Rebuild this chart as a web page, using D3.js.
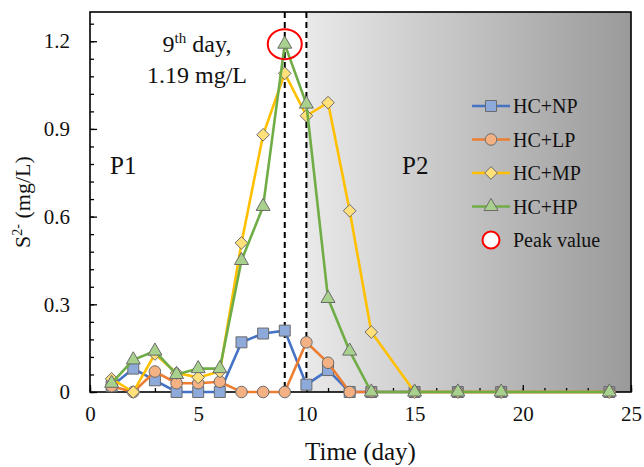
<!DOCTYPE html>
<html>
<head>
<meta charset="utf-8">
<script src="https://cdn.jsdelivr.net/npm/d3@7"></script>
<style>
  body { margin: 0; background: #fff; }
  svg text { font-family: "Liberation Serif", "DejaVu Serif", serif; fill: #111; }
</style>
</head>
<body>
<svg id="chart" width="644" height="467"></svg>
<script>
// sampling days and S2- concentration (mg/L) per treatment
var days = [1, 2, 3, 4, 5, 6, 7, 8, 9, 10, 11, 12, 13, 15, 17, 19, 24]
var hcNP = [0.02, 0.08, 0.04, 0, 0, 0, 0.17, 0.20, 0.21, 0.025, 0.075, 0, 0, 0, 0, 0, 0]
var hcLP = [0.02, 0, 0.07, 0.03, 0.03, 0.035, 0, 0, 0, 0.17, 0.10, 0, 0, 0, 0, 0, 0]
var hcMP = [0.045, 0, 0.13, 0.065, 0.05, 0.07, 0.51, 0.88, 1.09, 0.945, 0.99, 0.62, 0.205, 0, 0, 0, 0]
var hcHP = [0.03, 0.11, 0.14, 0.06, 0.08, 0.08, 0.45, 0.635, 1.19, 0.985, 0.32, 0.14, 0, 0, 0, 0, 0]
var seriesNames = ['HC+NP', 'HC+LP', 'HC+MP', 'HC+HP']
var xTicks = [0, 5, 10, 15, 20, 25]
var yTicks = [0, 0.3, 0.6, 0.9, 1.2]
var peak = { day: 9, value: 1.19 }
var phaseSplit = [9, 10]

var margin = { top: 12, right: 13, bottom: 75, left: 90 }
var svg = d3.select('#chart')
var width = +svg.attr('width') - margin.left - margin.right
var height = +svg.attr('height') - margin.top - margin.bottom
var g = svg.append('g').attr('transform', 'translate(' + margin.left + ',' + margin.top + ')')

var x = d3.scaleLinear().domain([0, 25]).range([0, width])
var y = d3.scaleLinear().domain([0, 1.3]).range([height, 0])

// P2 shaded background
var defs = svg.append('defs')
var grad = defs.append('linearGradient').attr('id', 'p2bg').attr('x1', 0).attr('x2', 1).attr('y1', 0).attr('y2', 0)
grad.append('stop').attr('offset', 0).attr('stop-color', '#e9e9e9')
grad.append('stop').attr('offset', 1).attr('stop-color', '#9a9a9a')
g.append('rect')
    .attr('x', x(10)).attr('y', 0)
    .attr('width', x(25) - x(10)).attr('height', height)
    .attr('fill', 'url(#p2bg)')

// axes with inward ticks
function styleAxis(sel) {
  sel.attr('font-family', null)
  sel.select('.domain').remove()
  sel.selectAll('line').attr('stroke', '#000').attr('stroke-width', 1.3)
  sel.selectAll('text').style('font-size', '21px').attr('fill', '#111')
}
g.append('g').attr('transform', 'translate(0,' + height + ')')
    .call(d3.axisBottom(x).tickValues(d3.range(0, 26, 1)).tickSize(-4).tickFormat(''))
    .call(styleAxis)
g.append('g').attr('transform', 'translate(0,' + height + ')')
    .call(d3.axisBottom(x).tickValues(xTicks).tickSize(-7).tickPadding(14).tickFormat(d3.format('d')))
    .call(styleAxis)
g.append('g')
    .call(d3.axisLeft(y).tickValues(d3.range(0, 1.29, 0.06)).tickSize(-4).tickFormat(''))
    .call(styleAxis)
g.append('g')
    .call(d3.axisLeft(y).tickValues(yTicks).tickSize(-7).tickPadding(20).tickFormat(d => d == 0 ? '0' : d3.format('.1f')(d)))
    .call(styleAxis)

// frame
g.append('rect').attr('width', width).attr('height', height)
    .attr('fill', 'none').attr('stroke', '#000').attr('stroke-width', 1.6)

// dashed phase boundaries
g.selectAll('.phase').data(phaseSplit).enter().append('line')
    .attr('x1', d => x(d)).attr('x2', d => x(d))
    .attr('y1', 0).attr('y2', height)
    .attr('stroke', '#000').attr('stroke-width', 2).attr('stroke-dasharray', '6,4')

var styles = [
  { line: '#4472c4', fill: '#8eaadb', shape: 'square' },
  { line: '#ed7d31', fill: '#f4b183', shape: 'circle' },
  { line: '#ffc000', fill: '#ffe07a', shape: 'diamond' },
  { line: '#70ad47', fill: '#a9d18e', shape: 'triangle' },
]
// squared diamond (rotated square), d3's own is too narrow
var rhombus = { draw: function(ctx, size) {
  var r = Math.sqrt(size / 2)
  ctx.moveTo(0, -r); ctx.lineTo(r, 0); ctx.lineTo(0, r); ctx.lineTo(-r, 0); ctx.closePath()
} }
var symbolFor = {
  square: d3.symbol().type(d3.symbolSquare).size(120),
  circle: d3.symbol().type(d3.symbolCircle).size(105),
  diamond: d3.symbol().type(rhombus).size(80),
  triangle: d3.symbol().type(d3.symbolTriangle).size(85),
}

var allSeries = [hcNP, hcLP, hcMP, hcHP]
var line = d3.line().x((d, i) => x(days[i])).y(d => y(d))

allSeries.forEach(function(vals, si) {
  var st = styles[si]
  var sg = g.append('g')
  sg.append('path').datum(vals)
      .attr('d', line)
      .attr('fill', 'none').attr('stroke', st.line).attr('stroke-width', 2.6)
  sg.selectAll('path.pt').data(vals).enter().append('path')
      .attr('class', 'pt')
      .attr('d', symbolFor[st.shape])
      .attr('transform', (d, i) => 'translate(' + x(days[i]) + ',' + y(d) + ')')
      .attr('fill', st.fill).attr('stroke', '#6a6a6a').attr('stroke-width', 1)
})

// peak marker
g.append('ellipse')
    .attr('cx', x(peak.day)).attr('cy', y(peak.value))
    .attr('rx', 17).attr('ry', 15)
    .attr('fill', 'none').attr('stroke', '#ff0000').attr('stroke-width', 2)

// annotation
var ann = g.append('text').attr('text-anchor', 'middle').style('font-size', '24px')
var t1 = ann.append('tspan').attr('x', 107).attr('y', 40)
t1.append('tspan').text('9')
t1.append('tspan').attr('dy', -9).style('font-size', '15px').text('th')
t1.append('tspan').attr('dy', 9).text(' day,')
ann.append('tspan').attr('x', 107).attr('y', 71).text(peak.value + ' mg/L')

g.append('text').attr('x', 20).attr('y', 162).style('font-size', '25px').text('P1')
g.append('text').attr('x', 312).attr('y', 162).style('font-size', '25px').text('P2')

// legend
var legend = g.append('g').attr('transform', 'translate(382,94)')
seriesNames.forEach(function(name, i) {
  var st = styles[i]
  var row = legend.append('g').attr('transform', 'translate(0,' + (i * 33.5) + ')')
  row.append('line').attr('x1', 0).attr('x2', 38).attr('stroke', st.line).attr('stroke-width', 2.6)
  row.append('path').attr('d', symbolFor[st.shape]).attr('transform', 'translate(19,0)')
      .attr('fill', st.fill).attr('stroke', '#6a6a6a').attr('stroke-width', 1)
  row.append('text').attr('x', 41).attr('dy', '0.35em').style('font-size', '20px').text(name)
})
var pk = legend.append('g').attr('transform', 'translate(0,' + (4 * 33.5) + ')')
pk.append('circle').attr('cx', 19).attr('r', 8.5).attr('fill', '#fff').attr('stroke', '#ff0000').attr('stroke-width', 2)
pk.append('text').attr('x', 41).attr('dy', '0.35em').style('font-size', '20px').text('Peak value')

// axis titles
svg.append('text').attr('x', margin.left + x(12.5)).attr('y', 460)
    .attr('text-anchor', 'middle').style('font-size', '25px').text('Time (day)')
var yt = svg.append('text').attr('transform', 'translate(30,' + (margin.top + height / 2) + ') rotate(-90)')
    .attr('text-anchor', 'middle').style('font-size', '22px')
yt.append('tspan').text('S')
yt.append('tspan').attr('dy', -8).style('font-size', '14px').text('2-')
yt.append('tspan').attr('dy', 8).text(' (mg/L)')
</script>
</body>
</html>
